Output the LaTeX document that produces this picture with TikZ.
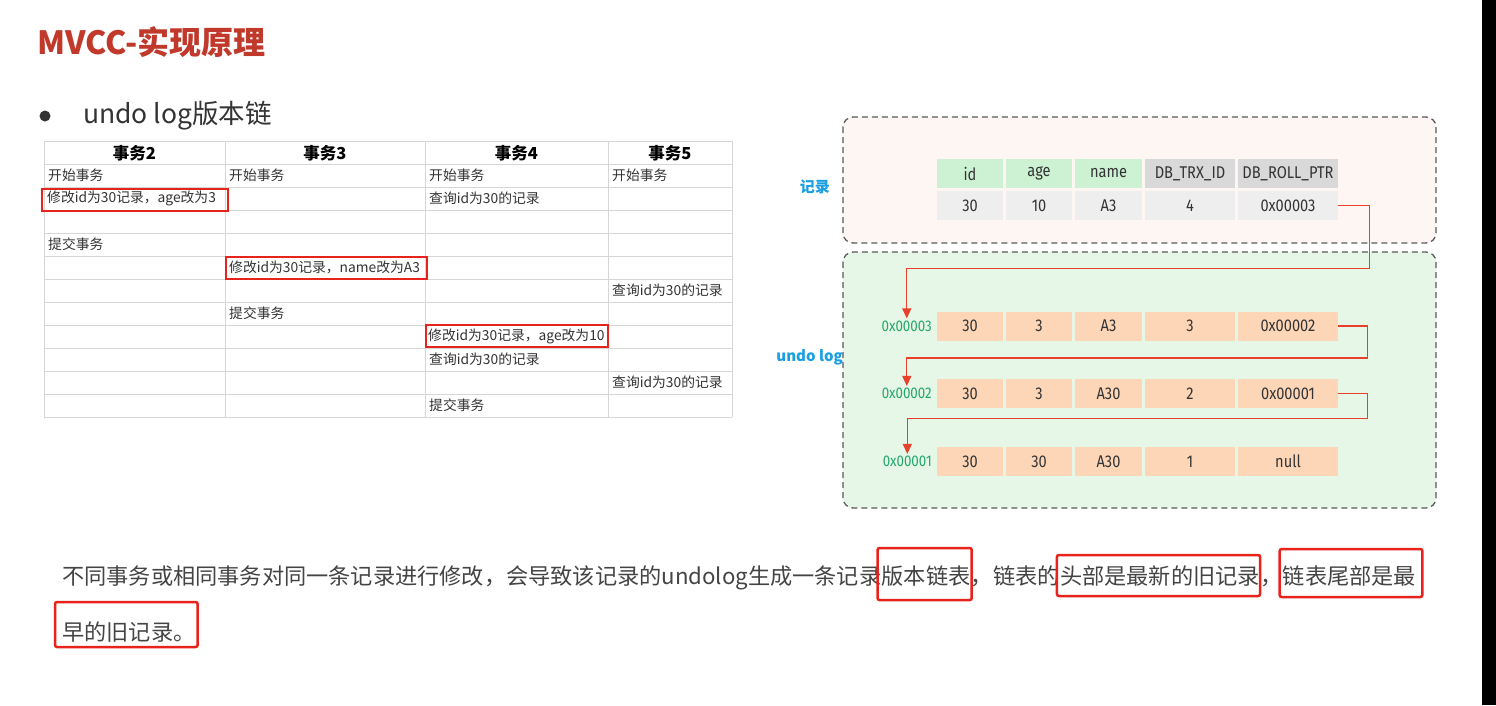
\documentclass[tikz,border=0pt]{standalone}
\usepackage{fontspec}
\setmainfont{Noto Sans CJK SC}
\newfontfamily\condfont[FakeStretch=0.86]{Fira Sans}
\usetikzlibrary{arrows.meta}
\definecolor{titlered}{HTML}{C0392B}
\definecolor{darktext}{HTML}{333333}
\definecolor{paratext}{HTML}{444444}
\definecolor{gridc}{HTML}{D6D6D6}
\definecolor{hlred}{HTML}{E8231B}
\definecolor{recfill}{HTML}{FDF6F3}
\definecolor{undofill}{HTML}{E7F7E7}
\definecolor{dashc}{HTML}{5A5A5A}
\definecolor{hdrgreen}{HTML}{CDF2D3}
\definecolor{hdrgray}{HTML}{D9D9D9}
\definecolor{valgray}{HTML}{EEEEEE}
\definecolor{peach}{HTML}{FDD6B8}
\definecolor{lblblue}{HTML}{1A9FE0}
\definecolor{addrgreen}{HTML}{23A86A}
\definecolor{ptrred}{HTML}{E8402A}
\definecolor{celltext}{HTML}{333333}
\tikzset{
  hdr/.style={font=\bfseries\fontsize{16.5}{18}\selectfont, text=black, inner sep=0},
  tcell/.style={anchor=west, font=\fontsize{13.8}{16}\selectfont, text=celltext, inner sep=0},
  hlbox/.style={draw=hlred, line width=2pt},
  dashbox/.style={draw=dashc, dashed, dash pattern=on 6pt off 4pt, line width=1.3pt, rounded corners=10pt},
  dcell/.style={minimum height=29pt, inner sep=0, font=\condfont\fontsize{17}{19}\selectfont, text=celltext},
  lbl/.style={font=\bfseries\fontsize{15}{17}\selectfont, text=lblblue, inner sep=0},
  addr/.style={font=\condfont\fontsize{15.5}{17}\selectfont, text=addrgreen, inner sep=2pt},
  ptr/.style={draw=ptrred, line width=1.1pt, -{Triangle[width=9pt,length=10pt]}},
  para/.style={anchor=base west, inner sep=0, font=\fontsize{22.2}{26}\selectfont, text=paratext},
  parabox/.style={draw=hlred, line width=2.5pt, rounded corners=2pt}
}
\begin{document}
\begin{tikzpicture}[x=1pt,y=-1pt]
\useasboundingbox (0,0) rectangle (1496,705);
\fill[white] (0,0) rectangle (1496,705);
\fill[black] (1482,0) rectangle (1496,705);

% title
\node[anchor=west, text=titlered, font=\bfseries\fontsize{32}{36}\selectfont, inner sep=0] (title) at (37,42) {MVCC-实现原理};
\node[circle, fill=darktext, inner sep=0, minimum size=11pt] (bullet) at (45,116) {};
\node[anchor=west, text=darktext, font=\fontsize{26.5}{30}\selectfont, inner sep=0] (sub) at (83,116) {undo log版本链};

% left table grid
\foreach \y in {141,164,...,417} \draw[gridc, line width=1pt] (44,\y) -- (732,\y);
\foreach \x in {44,225,425,608,732} \draw[gridc, line width=1pt] (\x,141) -- (\x,417);

\node[hdr] (h2) at (134.5,153) {事务2};
\node[hdr] (h3) at (325,153) {事务3};
\node[hdr] (h4) at (516.5,153) {事务4};
\node[hdr] (h5) at (670,153) {事务5};

\node[tcell] (t21) at (48,175.5) {开始事务};
\node[tcell] (t31) at (229,175.5) {开始事务};
\node[tcell] (t41) at (429,175.5) {开始事务};
\node[tcell] (t51) at (612,175.5) {开始事务};
\node[tcell] (t22) at (47,198.5) {修改id为30记录，age改为3};
\node[tcell] (t42) at (429,198.5) {查询id为30的记录};
\node[tcell] (t24) at (48,244.5) {提交事务};
\node[tcell] (t35) at (229,267.5) {修改id为30记录，name改为A3};
\node[tcell] (t56) at (612,290.5) {查询id为30的记录};
\node[tcell] (t37) at (229,313.5) {提交事务};
\node[tcell] (t48) at (428,336.5) {修改id为30记录，age改为10};
\node[tcell] (t49) at (429,359.5) {查询id为30的记录};
\node[tcell] (t510) at (612,382.5) {查询id为30的记录};
\node[tcell] (t411) at (429,405.5) {提交事务};

\draw[hlbox] (41.5,188.5) rectangle (228,210.5);
\draw[hlbox] (225.5,256.5) rectangle (427,278.5);
\draw[hlbox] (425.5,325) rectangle (608,347);

% right boxes
\draw[dashbox, fill=recfill] (843,117) rectangle (1436,243);
\draw[dashbox, fill=undofill] (843,252) rectangle (1436,508);
\node[lbl, anchor=east] (reclbl) at (830,187) {记录};
\node[lbl, anchor=east] (undolbl) at (843,357) {undo log};

% record table
\node[dcell, fill=hdrgreen, minimum width=66pt] (rh1) at (970,173.5) {id};
\node[dcell, fill=hdrgreen, minimum width=66pt] (rh2) at (1039,173.5) {age};
\node[dcell, fill=hdrgreen, minimum width=67pt] (rh3) at (1108.5,173.5) {name};
\node[dcell, fill=hdrgray, minimum width=90pt] (rh4) at (1190,173.5) {DB\_TRX\_ID};
\node[dcell, fill=hdrgray, minimum width=100pt] (rh5) at (1288,173.5) {DB\_ROLL\_PTR};
\node[dcell, fill=valgray, minimum width=66pt] (rv1) at (970,205.5) {30};
\node[dcell, fill=valgray, minimum width=66pt] (rv2) at (1039,205.5) {10};
\node[dcell, fill=valgray, minimum width=67pt] (rv3) at (1108.5,205.5) {A3};
\node[dcell, fill=valgray, minimum width=90pt] (rv4) at (1190,205.5) {4};
\node[dcell, fill=valgray, minimum width=100pt] (rv5) at (1288,205.5) {0x00003};

% undo rows
\foreach \r/\yy/\a/\b/\c/\d/\e in {1/326/30/3/A3/3/0x00002, 2/393.5/30/3/A30/2/0x00001, 3/461.5/30/30/A30/1/null}{
  \node[dcell, fill=peach, minimum width=66pt] (u\r c1) at (970,\yy) {\a};
  \node[dcell, fill=peach, minimum width=66pt] (u\r c2) at (1039,\yy) {\b};
  \node[dcell, fill=peach, minimum width=67pt] (u\r c3) at (1108.5,\yy) {\c};
  \node[dcell, fill=peach, minimum width=90pt] (u\r c4) at (1190,\yy) {\d};
  \node[dcell, fill=peach, minimum width=100pt] (u\r c5) at (1288,\yy) {\e};
}
\node[addr, anchor=east] (a3) at (934,326) {0x00003};
\node[addr, anchor=east] (a2) at (934,393.5) {0x00002};
\node[addr, anchor=east] (a1) at (934,461.5) {0x00001};

\draw[ptr] (rv5.east) -| ++(31,63) -| (a3.north);
\draw[ptr] (u1c5.east) -| ++(29,32) -| (a2.north);
\draw[ptr] (u2c5.east) -| ++(29,25) -| (a1.north);

% paragraph
\node[para] (s1) at (62,584) {不同事务或相同事务对同一条记录进行修改，会导致该记录的undolog生成一条记录};
\node[para] (s2) at (s1.base east) {版本链表};
\node[para] (s3) at (s2.base east) {，链表的};
\node[para] (s4) at (s3.base east) {头部是最新的旧记录};
\node[para] (s5) at (s4.base east) {，};
\node[para] (s6) at (s5.base east) {链表尾部是最};
\node[para] (s7) at (62,640) {早的旧记录。};

\coordinate (b1l) at ([xshift=-4pt]s2.west);
\coordinate (b1r) at ([xshift=1pt]s2.east);
\draw[parabox] (b1l |- 0,548) rectangle (b1r |- 0,600);
\coordinate (b2l) at ([xshift=-3pt]s4.west);
\coordinate (b2r) at ([xshift=0pt]s4.east);
\draw[parabox] (b2l |- 0,555) rectangle (b2r |- 0,596);
\coordinate (b3l) at ([xshift=-3pt]s6.west);
\coordinate (b3r) at ([xshift=6pt]s6.east);
\draw[parabox] (b3l |- 0,549) rectangle (b3r |- 0,597);
\coordinate (b4l) at ([xshift=-7pt]s7.west);
\coordinate (b4r) at ([xshift=2pt]s7.east);
\draw[parabox] (b4l |- 0,602) rectangle (b4r |- 0,647);
\end{tikzpicture}
\end{document}
